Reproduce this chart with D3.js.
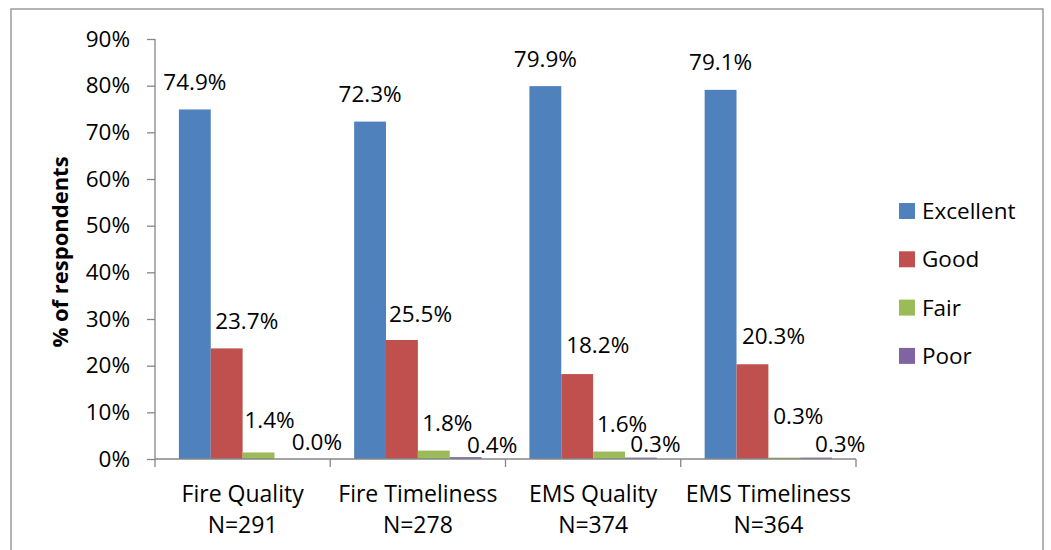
<!DOCTYPE html>
<html>
<head>
<meta charset="utf-8">
<script src="https://cdn.jsdelivr.net/npm/d3@7/dist/d3.min.js"></script>
<style>
  html, body { margin: 0; padding: 0; background: #fff; }
  svg { display: block; font-family: "Open Sans", sans-serif; }
</style>
</head>
<body>
<svg id="chart" width="1051" height="550"></svg>
<script>
// Service ratings by category (share of respondents)
const categories = ["Fire Quality", "Fire Timeliness", "EMS Quality", "EMS Timeliness"];
const sampleSizes = [291, 278, 374, 364];
const seriesNames = ["Excellent", "Good", "Fair", "Poor"];
const excellent = [0.749, 0.723, 0.799, 0.791];
const good      = [0.237, 0.255, 0.182, 0.203];
const fair      = [0.014, 0.018, 0.016, 0.003];
const poor      = [0.000, 0.004, 0.003, 0.003];
const yTicks = [0, 0.1, 0.2, 0.3, 0.4, 0.5, 0.6, 0.7, 0.8, 0.9];

// Label placement nudges [dx, dy] in px, per series then per category,
// relative to the default spot centred above each bar.
const labelNudge = [
  [[0, 0], [0, 0], [0, 0], [0, 0]],
  [[20, 0], [18.5, 1.5], [20.5, -1.5], [21, -1]],
  [[11, -5], [13.5, 0], [13, 0], [14, -14]],
  [[26.5, 10.5], [26.5, 15], [14.5, 14], [24, 14]]
];

const seriesValues = [excellent, good, fair, poor];
const colors = ["#4F81BD", "#C0504D", "#9BBB59", "#8064A2"];
const axisColor = "#868686";
const textSize = 22.5;

const svg = d3.select("#chart");

// Outer chart frame
svg.append("rect")
  .attr("x", 11).attr("y", 9)
  .attr("width", 1032).attr("height", 560)
  .attr("fill", "#fff")
  .attr("stroke", "#8c8c8c")
  .attr("stroke-width", 1.3);

const plot = { left: 155, right: 856, top: 39, bottom: 459 };

const y = d3.scaleLinear().domain([0, 0.9]).range([plot.bottom, plot.top]);

const x0 = d3.scaleBand()
  .domain(categories)
  .range([plot.left, plot.right])
  .paddingInner(1.5 / 5.5)
  .paddingOuter(0.75 / 5.5);

const x1 = d3.scaleBand()
  .domain(seriesNames)
  .range([0, x0.bandwidth()]);

// Y axis
const yAxis = d3.axisLeft(y)
  .tickValues(yTicks)
  .tickFormat(d3.format(".0%"))
  .tickSize(8)
  .tickPadding(17);

const gy = svg.append("g")
  .attr("transform", `translate(${plot.left},0)`)
  .call(yAxis);
gy.select(".domain").attr("stroke", axisColor).attr("stroke-width", 1.3)
  .attr("d", `M0,${plot.top}V${plot.bottom}`);
gy.selectAll(".tick line").attr("stroke", axisColor).attr("stroke-width", 1.3);
gy.selectAll(".tick text")
  .attr("font-size", textSize)
  .attr("font-family", "Open Sans, sans-serif")
  .attr("fill", "#000");

// Bars
const groups = svg.append("g").selectAll("g")
  .data(categories)
  .join("g")
  .attr("transform", d => `translate(${x0(d)},0)`);

groups.selectAll("rect")
  .data((c, ci) => seriesNames.map((s, si) => ({ s, si, ci, v: seriesValues[si][ci] })))
  .join("rect")
  .attr("x", d => x1(d.s))
  .attr("y", d => y(d.v))
  .attr("width", x1.bandwidth())
  .attr("height", d => y(0) - y(d.v))
  .attr("fill", d => colors[d.si]);

// X axis (drawn after bars so the baseline sits on top)
const catEdges = categories.map(c => x0(c) - x0.step() * x0.paddingOuter());
catEdges.push(plot.right);
const gx = svg.append("g");
gx.append("line")
  .attr("x1", plot.left).attr("x2", plot.right)
  .attr("y1", plot.bottom).attr("y2", plot.bottom)
  .attr("stroke", axisColor).attr("stroke-width", 1.3);
gx.selectAll("line.tick")
  .data(catEdges)
  .join("line")
  .attr("class", "tick")
  .attr("x1", d => d).attr("x2", d => d)
  .attr("y1", plot.bottom).attr("y2", plot.bottom + 8)
  .attr("stroke", axisColor).attr("stroke-width", 1.3);

const catLabels = gx.selectAll("text")
  .data(categories)
  .join("text")
  .attr("x", d => x0(d) + x0.bandwidth() / 2)
  .attr("y", 502)
  .attr("text-anchor", "middle")
  .attr("font-size", 23)
  .attr("fill", "#000");
catLabels.append("tspan").text(d => d);
catLabels.append("tspan")
  .attr("x", d => x0(d) + x0.bandwidth() / 2)
  .attr("dy", 31)
  .text((d, i) => "N=" + sampleSizes[i]);

// Value labels
const fmt = d3.format(".1%");
groups.selectAll("text")
  .data((c, ci) => seriesNames.map((s, si) => ({ s, si, ci, v: seriesValues[si][ci] })))
  .join("text")
  .attr("x", d => x1(d.s) + x1.bandwidth() / 2 + labelNudge[d.si][d.ci][0])
  .attr("y", d => y(d.v) - 19.5 + labelNudge[d.si][d.ci][1])
  .attr("text-anchor", "middle")
  .attr("font-size", textSize)
  .attr("fill", "#000")
  .text(d => fmt(d.v));

// Y axis title
svg.append("text")
  .attr("transform", "translate(68,252) rotate(-90)")
  .attr("text-anchor", "middle")
  .attr("font-size", 22)
  .attr("font-weight", "bold")
  .attr("fill", "#000")
  .text("% of respondents");

// Legend
const legend = svg.append("g").selectAll("g")
  .data(seriesNames)
  .join("g")
  .attr("transform", (d, i) => `translate(899,${203 + i * 48.3})`);
legend.append("rect")
  .attr("width", 16).attr("height", 16)
  .attr("fill", (d, i) => colors[i]);
legend.append("text")
  .attr("x", 23).attr("y", 16)
  .attr("font-size", textSize)
  .attr("fill", "#000")
  .text(d => d);
</script>
</body>
</html>
